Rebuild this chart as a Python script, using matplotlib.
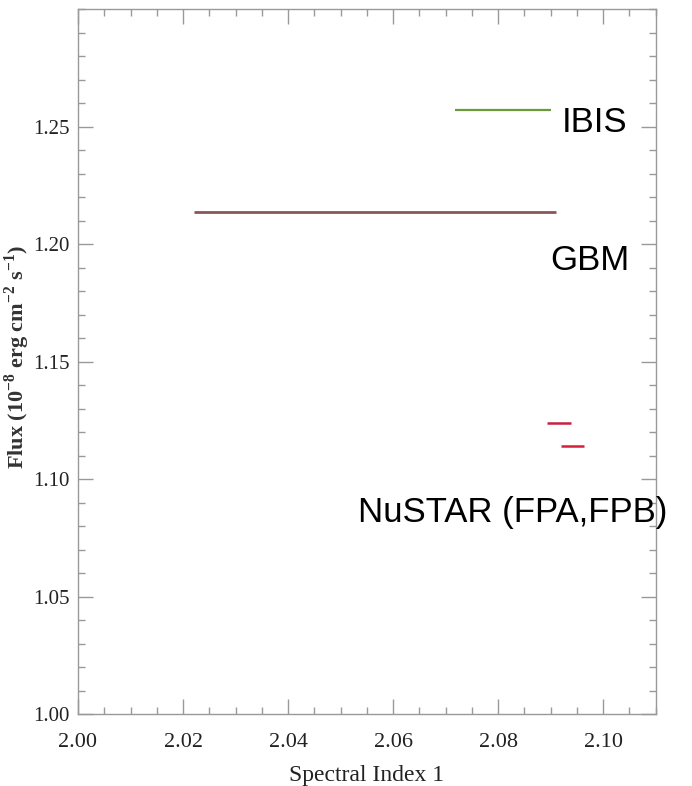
import numpy as np
import matplotlib.pyplot as plt
from matplotlib.ticker import MultipleLocator, FormatStrFormatter

plt.rcParams['mathtext.fontset'] = 'custom'
plt.rcParams['mathtext.rm'] = 'Liberation Serif'
plt.rcParams['mathtext.bf'] = 'Liberation Serif:bold'

# Segmentos horizontales (indice espectral, flujo)
ibis_x = [2.0718, 2.0901]
ibis_y = [1.2572, 1.2572]
gbm_x = [2.0221, 2.0910]
gbm_y = [1.2137, 1.2137]
nustar_fpa_x = [2.0894, 2.0939]
nustar_fpa_y = [1.1240, 1.1240]
nustar_fpb_x = [2.0920, 2.0964]
nustar_fpb_y = [1.1140, 1.1140]

# Marcas de los ejes
xticks = [2.00, 2.02, 2.04, 2.06, 2.08, 2.10]
yticks = [1.00, 1.05, 1.10, 1.15, 1.20, 1.25]

# Etiquetas (texto, x, y)
labels = ["IBIS", "GBM", "NuSTAR (FPA,FPB)"]
label_x = [2.0921, 2.0900, 2.0533]
label_y = [1.2477, 1.1891, 1.0817]

fig = plt.figure(figsize=(6.92, 7.86), dpi=100)
ax = fig.add_axes([0.1127, 0.0916, 0.8348, 0.8969])

ax.plot(ibis_x, ibis_y, color='#6b9a3c', lw=1.6, solid_capstyle='butt')
ax.plot(gbm_x, gbm_y, color='#8a5656', lw=2.0, solid_capstyle='butt')
ax.plot(nustar_fpa_x, nustar_fpa_y, color='#c8233e', lw=1.8, solid_capstyle='butt')
ax.plot(nustar_fpb_x, nustar_fpb_y, color='#d81f3a', lw=1.8, solid_capstyle='butt')

for txt, x, y in zip(labels, label_x, label_y):
    ax.text(x, y, txt, fontsize=25, family='Liberation Sans',
            va='baseline', ha='left', clip_on=False)

ax.set_xlim(2.00, 2.11)
ax.set_ylim(1.00, 1.30)

ax.set_xticks(xticks)
ax.set_yticks(yticks)
ax.xaxis.set_minor_locator(MultipleLocator(0.005))
ax.yaxis.set_minor_locator(MultipleLocator(0.01))
ax.xaxis.set_major_formatter(FormatStrFormatter('%.2f'))
ax.yaxis.set_major_formatter(FormatStrFormatter('%.2f'))

ax.tick_params(which='both', direction='in', top=True, right=True,
               color='#999999', width=1.0, labelcolor='#222222')
ax.tick_params(which='major', length=11)
ax.tick_params(which='minor', length=5)
ax.tick_params(axis='x', which='major', pad=14, labelsize=16)
ax.tick_params(axis='y', which='major', pad=6, labelsize=15)
for lab in ax.get_xticklabels() + ax.get_yticklabels():
    lab.set_family('Liberation Serif')

for sp in ax.spines.values():
    sp.set_color('#999999')
    sp.set_linewidth(1.0)

ax.set_xlabel('Spectral Index 1', family='Liberation Serif', fontsize=17,
              color='#222222')
ax.xaxis.set_label_coords(0.5, -0.072)
ax.set_ylabel(r'Flux (10$^{\mathbf{-8}}$ erg cm$^{\mathbf{-2}}$ s$^{\mathbf{-1}}$)',
              family='Liberation Serif', fontsize=16, fontweight='bold',
              color='#333333')
ax.yaxis.set_label_coords(-0.08, 0.506)

fig.savefig('out.png', dpi=100)
